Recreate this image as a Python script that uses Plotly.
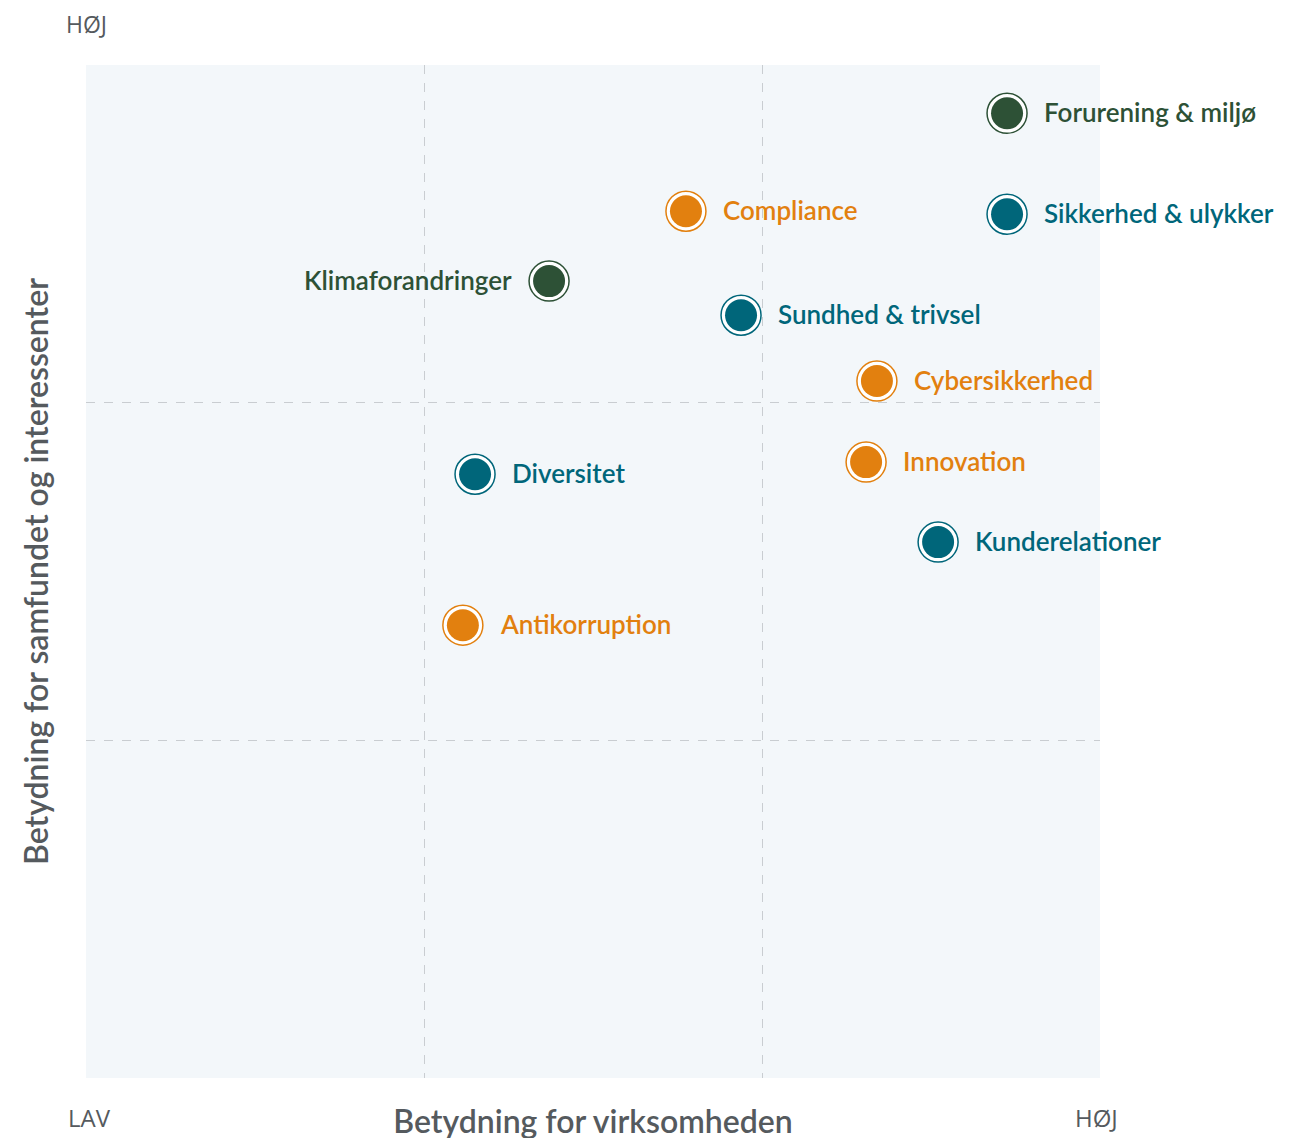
import plotly.graph_objects as go

topics = ["Forurening & miljø", "Sikkerhed & ulykker", "Compliance", "Klimaforandringer",
          "Sundhed & trivsel", "Cybersikkerhed", "Innovation", "Diversitet",
          "Kunderelationer", "Antikorruption"]
business = [2.725, 2.725, 1.775, 1.370, 1.938, 2.340, 2.308, 1.151, 2.521, 1.115]
society = [2.857, 2.558, 2.567, 2.360, 2.259, 2.064, 1.824, 1.788, 1.587, 1.341]
groups = ["env", "soc", "gov", "env", "soc", "gov", "gov", "soc", "soc", "gov"]
label_side = ["right", "right", "right", "left", "right", "right", "right", "right", "right", "right"]

colors = {"env": "#2d5136", "soc": "#00667a", "gov": "#e2800f"}
cols = [colors[g] for g in groups]

fig = go.Figure()
# outer ring
fig.add_trace(go.Scatter(
    x=business, y=society, mode="markers",
    marker=dict(size=40, color="white", line=dict(color=cols, width=1.5)),
    hoverinfo="skip", showlegend=False))
# inner dot
fig.add_trace(go.Scatter(
    x=business, y=society, mode="markers",
    marker=dict(size=32, color=cols, line=dict(width=0)),
    text=topics, hoverinfo="text", showlegend=False))

for t, x, y, c, side in zip(topics, business, society, cols, label_side):
    fig.add_annotation(
        x=x, y=y, text=t, showarrow=False,
        xanchor="left" if side == "right" else "right", yanchor="middle",
        xshift=35 if side == "right" else -35, yshift=1,
        font=dict(family="Lato", size=26, color=c, weight=600))

gray = "#555a5e"
fig.add_annotation(xref="paper", yref="paper", x=0, y=1.0, xshift=-22, yshift=41, text="HØJ",
                   showarrow=False, xanchor="left", yanchor="middle",
                   font=dict(family="Open Sans", size=23, color=gray))
fig.add_annotation(xref="paper", yref="paper", x=0, y=0, xshift=-20, yshift=-39, text="LAV",
                   showarrow=False, xanchor="left", yanchor="middle",
                   font=dict(family="Open Sans", size=24, color=gray))
fig.add_annotation(xref="paper", yref="paper", x=1.0, y=0, xshift=20, yshift=-39, text="HØJ",
                   showarrow=False, xanchor="right", yanchor="middle",
                   font=dict(family="Open Sans", size=24, color=gray))

axis_common = dict(range=[0, 3], dtick=1, showticklabels=False, ticks="",
                   showgrid=True, gridcolor="#c9cdd1", griddash="dash", gridwidth=1,
                   zeroline=False, showline=False, fixedrange=True)

fig.update_layout(
    width=1308, height=1138,
    margin=dict(l=78, r=216, t=57, b=68),
    paper_bgcolor="white", plot_bgcolor="#f3f7fa",
    xaxis=dict(**axis_common,
               title=dict(text="Betydning for virksomheden", standoff=32,
                          font=dict(family="Lato", size=32, color=gray, weight=600))),
    yaxis=dict(**axis_common,
               title=dict(text="Betydning for samfundet og interessenter", standoff=26,
                          font=dict(family="Lato", size=32, color=gray, weight=600))),
)

fig.write_html("out.html")
